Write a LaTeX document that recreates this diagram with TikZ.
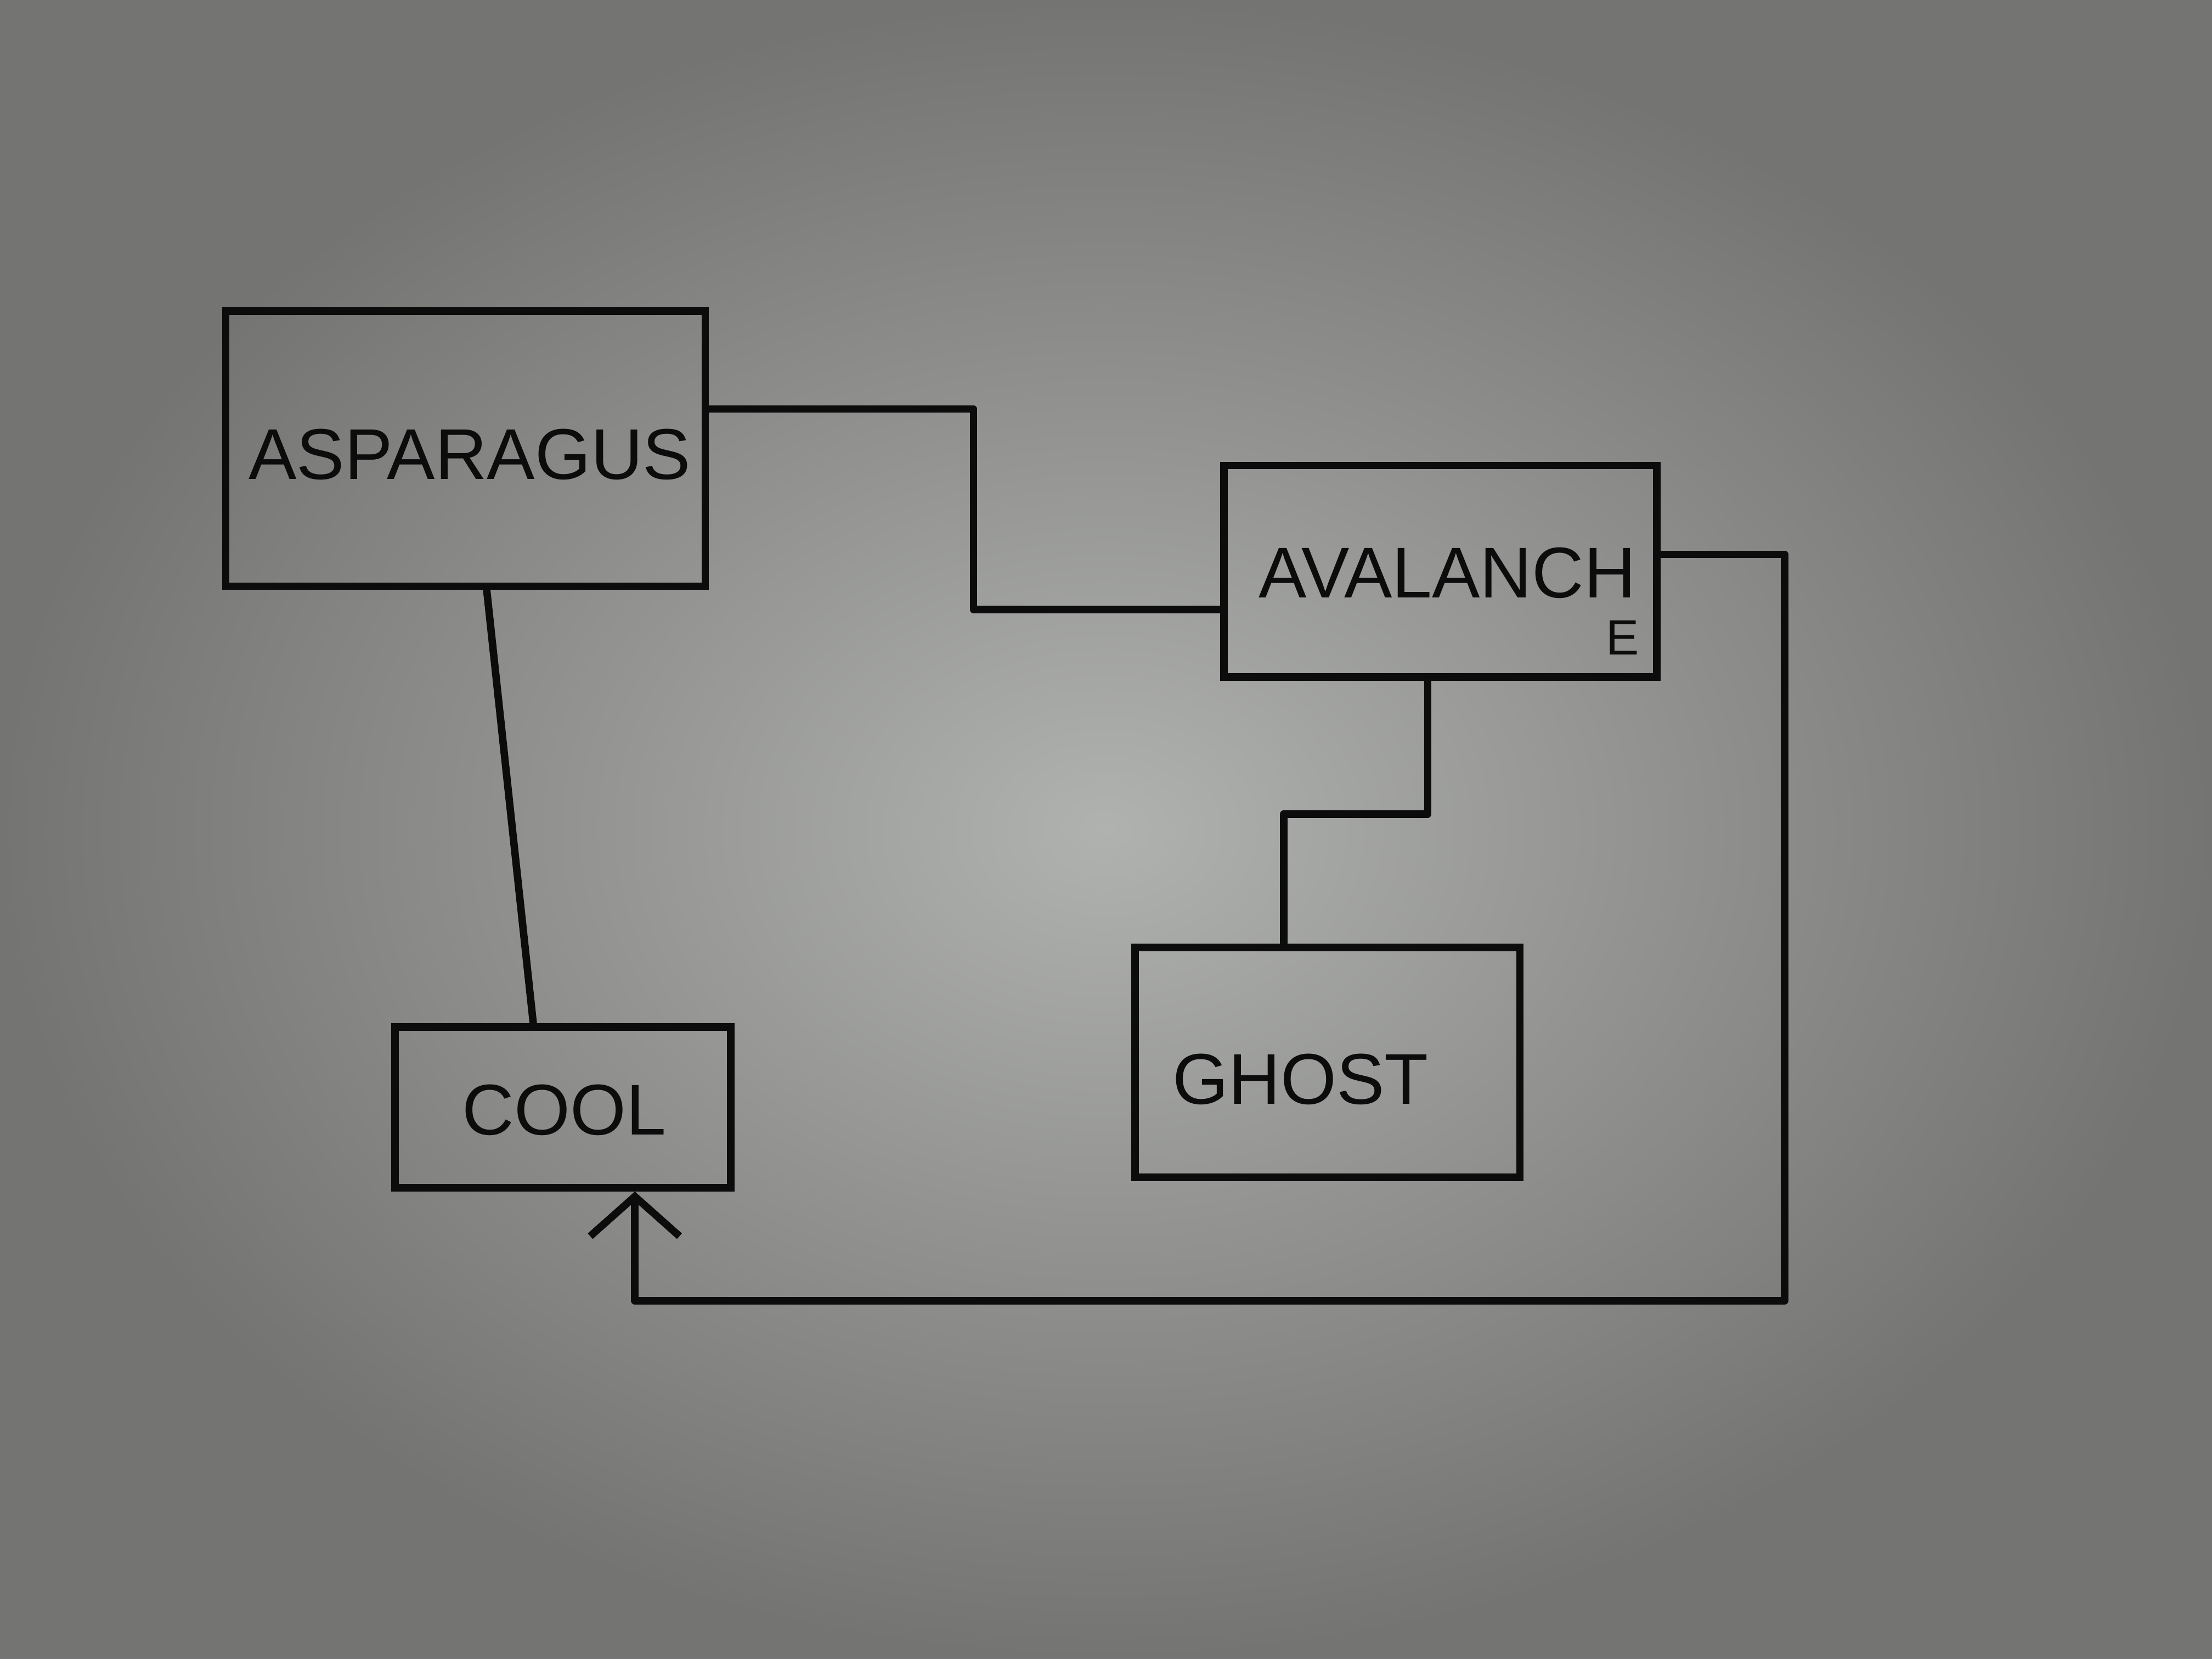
\documentclass[tikz,border=0pt]{standalone}
\usepackage{fontspec}
\setmainfont{Liberation Sans}
\usetikzlibrary{arrows.meta}
\definecolor{paperin}{RGB}{176,178,176}
\definecolor{paperout}{RGB}{116,116,114}
\definecolor{ink}{RGB}{12,12,12}
\tikzset{
  box/.style={draw=ink, line width=3pt, rectangle, inner sep=4pt, text=ink},
  lbl/.style={font=\fontsize{29}{33}\selectfont, text=ink, inner sep=0pt},
  wire/.style={draw=ink, line width=3pt, line join=round, line cap=round},
  tip/.style={-{Straight Barb[length=16pt,width=36pt,line width=3pt]}}
}
\begin{document}
\begin{tikzpicture}[x=0.02cm,y=-0.02cm]
  \shade[inner color=paperin, outer color=paperout] (0,0) rectangle (1568,1176);
  \useasboundingbox (0,0) rectangle (1568,1176);

  \node[box, minimum width=6.8cm, minimum height=3.9cm] (asp) at (330,318) {};
  \node[lbl] (asptext) at (333,322) {ASPARAGUS};
  \node[box, minimum width=6.14cm, minimum height=3.0cm] (ava) at (1021,405) {};
  \node[lbl] (avatext) at (1026,406) {AVALANCH};
  \node[lbl, font=\fontsize{20}{22}\selectfont] (avae) at (1150,452) {E};
  \node[box, minimum width=4.76cm, minimum height=2.28cm] (cool) at (399,785) {};
  \node[lbl] (cooltext) at (400,787) {COOL};
  \node[box, minimum width=5.46cm, minimum height=3.26cm] (ghost) at (941,753) {};
  \node[lbl] (ghosttext) at (922,765) {GHOST};

  \draw[wire] (asp.east |- 0,290) -- (690,290) |- (ava.west |- 0,432);
  \draw[wire] (asp.south -| 345,0) -- (cool.north -| 378,0);
  \draw[wire] (ava.south -| 1012,0) -- (1012,577) -| (ghost.north -| 910,0);
  \draw[wire, tip] (ava.east |- 0,393) -| (1265,922) -| (cool.south -| 450,0);
\end{tikzpicture}
\end{document}
